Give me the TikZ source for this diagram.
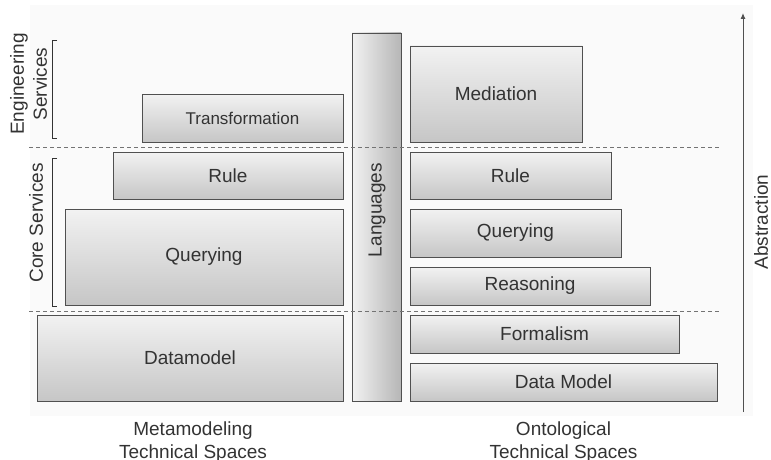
\documentclass[tikz,border=0pt]{standalone}
\usepackage{fontspec}
\setmainfont{Liberation Sans}
\usetikzlibrary{arrows.meta,shadows}
\definecolor{txt}{HTML}{333333}
\definecolor{edge}{HTML}{505050}
\definecolor{topc}{HTML}{F2F2F2}
\definecolor{botc}{HTML}{C6C6C6}
\definecolor{bgc}{HTML}{FAFAFA}
\tikzset{
  box/.style={draw=edge, line width=0.9pt, top color=topc, bottom color=botc,
    drop shadow={shadow xshift=1.2pt, shadow yshift=-1.2pt, opacity=0.3},
    text=txt, font=\fontsize{19}{23}\selectfont, inner sep=0pt},
  langbox/.style={draw=edge, line width=0.9pt, left color=topc, right color=botc!92!black,
    drop shadow={shadow xshift=1.2pt, shadow yshift=-1.2pt, opacity=0.3}, inner sep=0pt},
  lbl/.style={text=txt, font=\fontsize{19}{23}\selectfont, align=center, inner sep=0pt},
  sep/.style={draw=edge!80, line width=0.8pt, dash pattern=on 4pt off 3pt},
  brk/.style={draw=black!80, line width=0.9pt},
}
\begin{document}
\begin{tikzpicture}[x=1pt, y=-1pt]
\useasboundingbox (0,0) rectangle (771,460);
\fill[bgc] (30,5) rectangle (753,416);
% left column
\node[box, minimum width=201pt, minimum height=48pt, font=\fontsize{17}{20}\selectfont] (trans) at (242.5,118) {Transformation};
\node[box, minimum width=230pt, minimum height=47pt] (rulel) at (228,175.5) {Rule};
\node[box, minimum width=278pt, minimum height=96pt] (queryl) at (204,257) {Querying};
\node[box, minimum width=306pt, minimum height=86pt] (datal) at (190,358) {Datamodel};
% languages
\node[langbox, minimum width=49pt, minimum height=368pt] (lang) at (376.5,217) {};
\node[lbl, rotate=90] (langt) at (377,210) {Languages};
% right column
\node[box, minimum width=172pt, minimum height=96pt] (med) at (496,94) {Mediation};
\node[box, minimum width=201pt, minimum height=47pt] (ruler) at (510.5,175.5) {Rule};
\node[box, minimum width=211pt, minimum height=48pt] (queryr) at (515.5,233) {Querying};
\node[box, minimum width=240pt, minimum height=38pt] (reason) at (530,286) {Reasoning};
\node[box, minimum width=269pt, minimum height=38pt] (formal) at (544.5,334) {Formalism};
\node[box, minimum width=307pt, minimum height=38pt] (datar) at (563.5,382) {Data Model};
% dashed separators
\coordinate (d1a) at (29,147);
\coordinate (d1b) at (721,147);
\coordinate (d2a) at (29,311);
\coordinate (d2b) at (721,311);
\draw[sep] (d1a) -- (d1b);
\draw[sep] (d2a) -- (d2b);
% brackets
\coordinate (b1a) at (57,40);
\coordinate (b1b) at (57,138);
\coordinate (b2a) at (57,158);
\coordinate (b2b) at (57,306);
\draw[brk] (b1a) -- ++(-5,0) |- (b1b);
\draw[brk] (b2a) -- ++(-5,0) |- (b2b);
\node[lbl, rotate=90] (eng) at (28.5,84) {Engineering\\Services};
\node[lbl, rotate=90] (core) at (36,223) {Core Services};
% abstraction arrow
\coordinate (ab) at (743,412);
\coordinate (at) at (743,13);
\draw[draw=edge, line width=1pt, -{Latex[length=6pt,width=5pt]}] (ab) -- (at);
\node[lbl, rotate=90] (abs) at (761,222) {Abstraction};
% bottom labels
\node[lbl] (meta) at (193,442) {Metamodeling\\Technical Spaces};
\node[lbl] (onto) at (563.5,442) {Ontological\\Technical Spaces};
\end{tikzpicture}
\end{document}
